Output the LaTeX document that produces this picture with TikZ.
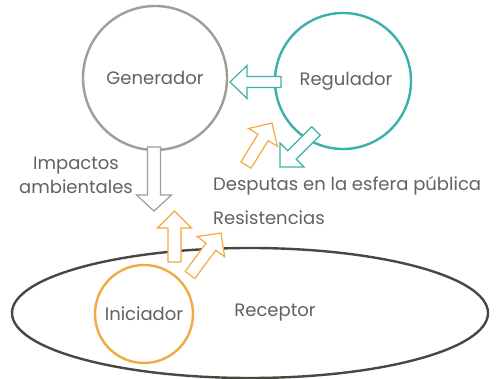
\documentclass[tikz,border=0pt]{standalone}
\usepackage{fontspec}
\setmainfont{Poppins}
\usetikzlibrary{calc}
\definecolor{gencol}{HTML}{A19D94}
\definecolor{regcol}{HTML}{3BB0A8}
\definecolor{inicol}{HTML}{F2AA42}
\definecolor{reccol}{HTML}{4A4740}
\definecolor{txtcol}{HTML}{626262}
\tikzset{
  circ/.style={draw, line width=2.4pt, circle, inner sep=0pt},
  lbl/.style={text=txtcol, font=\fontsize{18}{21}\selectfont, inner sep=0pt},
  blkarr/.style={line width=1.2pt, fill=white, line join=miter},
}
% #1 name, #2 colour, #3 tail, #4 tip, #5 shaft half width, #6 head half width, #7 head length
\newcommand{\blkarrow}[7]{%
  \coordinate (#1-t) at (#3);
  \coordinate (#1-h) at (#4);
  \coordinate (#1-b) at ($(#1-h)!#7!(#1-t)$);
  \draw[blkarr, draw=#2]
    ($(#1-t)!#5!90:(#1-h)$) -- ($(#1-b)!#5!-90:(#1-t)$) -- ($(#1-b)!#6!-90:(#1-t)$)
    -- (#1-h) -- ($(#1-b)!#6!90:(#1-t)$) -- ($(#1-b)!#5!90:(#1-t)$)
    -- ($(#1-t)!#5!-90:(#1-h)$) -- cycle;
}
\begin{document}
\begin{tikzpicture}[x=1pt, y=-1pt]
\useasboundingbox[fill=white] (0,0) rectangle (496,379);
% receptor ellipse
\draw[reccol, line width=2.4pt] (250,313) ellipse [x radius=238, y radius=65];
\node[lbl] (receptor) at (275,313) {Receptor};
% circles
\node[circ, draw=gencol, minimum size=144pt] (gen) at (155,78) {};
\node[lbl] (genl) at (gen) {Generador};
\node[circ, draw=regcol, minimum size=136pt] (reg) at (343,81) {};
\node[lbl] (regl) at (346,81) {Regulador};
\node[circ, draw=inicol, fill=white, minimum size=98pt] (ini) at (144,314) {};
\node[lbl] (inil) at (ini) {Iniciador};
% labels
\node[lbl, align=center, font=\fontsize{18}{24}\selectfont] (imp) at (76,175) {Impactos\\ambientales};
\node[lbl, anchor=west] (desp) at (213,186) {Desputas en la esfera pública};
\node[lbl, anchor=west] (res) at (213,218) {Resistencias};
% block arrows
\blkarrow{a1}{regcol}{281,82}{230,82}{5.5pt}{16.5pt}{17pt}
\blkarrow{a2}{regcol}{316,131}{280,167}{6pt}{17pt}{17pt}
\blkarrow{a3}{inicol}{246,165}{272,123}{6pt}{17pt}{17pt}
\blkarrow{a4}{gencol}{154,147}{154,211}{6.5pt}{17.5pt}{16pt}
\blkarrow{a5}{inicol}{174.5,262}{174.5,211}{6.5pt}{17pt}{17pt}
\blkarrow{a6}{inicol}{190,275}{221,233}{6pt}{17pt}{17pt}
\end{tikzpicture}
\end{document}
